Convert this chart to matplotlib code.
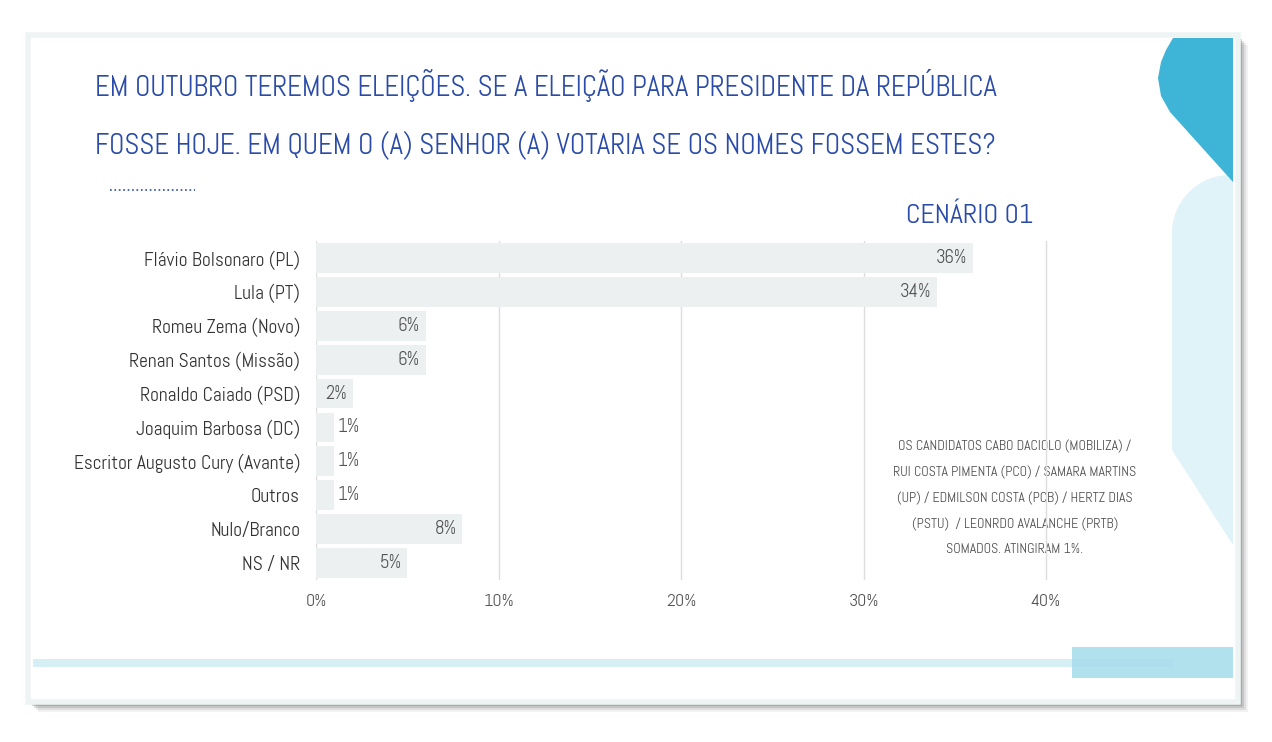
import numpy as np
import matplotlib.pyplot as plt
from matplotlib.patches import Rectangle, Polygon

plt.rcParams['font.family'] = ['Abel', 'DejaVu Sans']

# ---------data------
candidates = ['Flávio Bolsonaro (PL)', 'Lula (PT)', 'Romeu Zema (Novo)',
              'Renan Santos (Missão)', 'Ronaldo Caiado (PSD)', 'Joaquim Barbosa (DC)',
              'Escritor Augusto Cury (Avante)', 'Outros', 'Nulo/Branco', 'NS / NR']
votes = [36, 34, 6, 6, 2, 1, 1, 1, 8, 5]
xticks = [0, 10, 20, 30, 40]

title = ("EM OUTUBRO TEREMOS ELEIÇÕES. SE A ELEIÇÃO PARA PRESIDENTE DA REPÚBLICA\n"
         "FOSSE HOJE. EM QUEM O (A) SENHOR (A) VOTARIA SE OS NOMES FOSSEM ESTES?")
scenario = "CENÁRIO 01"
note = ("OS CANDIDATOS CABO DACIOLO (MOBILIZA) /\n"
        "RUI COSTA PIMENTA (PCO) / SAMARA MARTINS\n"
        "(UP) / EDMILSON COSTA (PCB) / HERTZ DIAS\n"
        "(PSTU)  / LEONRDO AVALANCHE (PRTB)\n"
        "SOMADOS. ATINGIRAM 1%.")

W, H = 1272, 742
blue = '#2a4ba8'
fig = plt.figure(figsize=(W / 100, H / 100), dpi=100)
fig.patch.set_facecolor('white')

# background layer in pixel coords
bg = fig.add_axes([0, 0, 1, 1], zorder=0)
bg.set_xlim(0, W)
bg.set_ylim(H, 0)
bg.axis('off')

# shadow + slide frame
for i, a in enumerate([0.08, 0.12, 0.18, 0.25]):
    d = 8 - 2 * i
    bg.add_patch(Rectangle((30 + d, 37 + d), 1210, 667, color='#555555', alpha=a, lw=0))
bg.add_patch(Rectangle((28, 35), 1210, 667, facecolor='white', edgecolor='#eef4f4', lw=4))

# right side decorations
t = np.linspace(np.pi, np.pi / 2, 20)
arc = np.column_stack([1230 + 58 * np.cos(t), 233 - 58 * np.sin(t)])
light = np.vstack([[[1233, 545], [1172, 450]], arc, [[1233, 175]]])
bg.add_patch(Polygon(light, closed=True, color='#e0f3f8', lw=0))
dark = [(1173, 38), (1233, 38), (1233, 182), (1170, 112), (1161, 96),
        (1158, 78), (1161, 62), (1166, 50)]
bg.add_patch(Polygon(dark, closed=True, color='#3eb5d6', lw=0))

# bottom stripe and square
bg.add_patch(Rectangle((33, 659), 1140, 8, color='#d6eff5', lw=0))
bg.add_patch(Rectangle((1072, 647), 161, 31, color='#a5dcec', alpha=0.85, lw=0))

# title, dotted rule, scenario and note
bg.text(95, 114, title, color=blue, fontsize=20.7, va='center', ha='left',
        linespacing=2.2)
bg.plot([110, 195], [190, 190], color=blue, ls=':', lw=1.2)
bg.text(970, 216, scenario, color=blue, fontsize=20, va='center', ha='center')
bg.text(1015, 498, note, color='#4f4f4f', fontsize=10, va='center', ha='center',
        linespacing=2.2)

# ---------chart------
x0, px = 316, 18.25
left = x0 / W
width = 42 * px / W
top, bottom = 241, 580
ax = fig.add_axes([left, 1 - bottom / H, width, (bottom - top) / H], zorder=1)
ax.patch.set_alpha(0)

y = np.arange(len(candidates))
ax.barh(y, votes, height=0.88, color='#ecf0f1', zorder=2)
ax.set_xlim(0, 42)
ax.set_ylim(len(candidates) - 0.5, -0.5)
ax.set_xticks(xticks)
ax.set_xticklabels([f'{v}%' for v in xticks], fontsize=13, color='#555555')
ax.set_yticks(y)
ax.set_yticklabels(candidates, fontsize=14, color='#333333')
ax.tick_params(axis='y', length=0, pad=11.5)
ax.tick_params(axis='x', length=0, pad=10)
ax.grid(axis='x', color='#dddddd', lw=1, zorder=0)
for s in ax.spines.values():
    s.set_visible(False)

for yi, v in zip(y, votes):
    if v >= 2:
        ax.text(v - 0.3, yi, f'{v}%', ha='right', va='center', fontsize=13.5,
                color='#555555', zorder=3)
    else:
        ax.text(v + 0.2, yi, f'{v}%', ha='left', va='center', fontsize=13.5,
                color='#555555', zorder=3)

fig.savefig('out.png', dpi=100)
